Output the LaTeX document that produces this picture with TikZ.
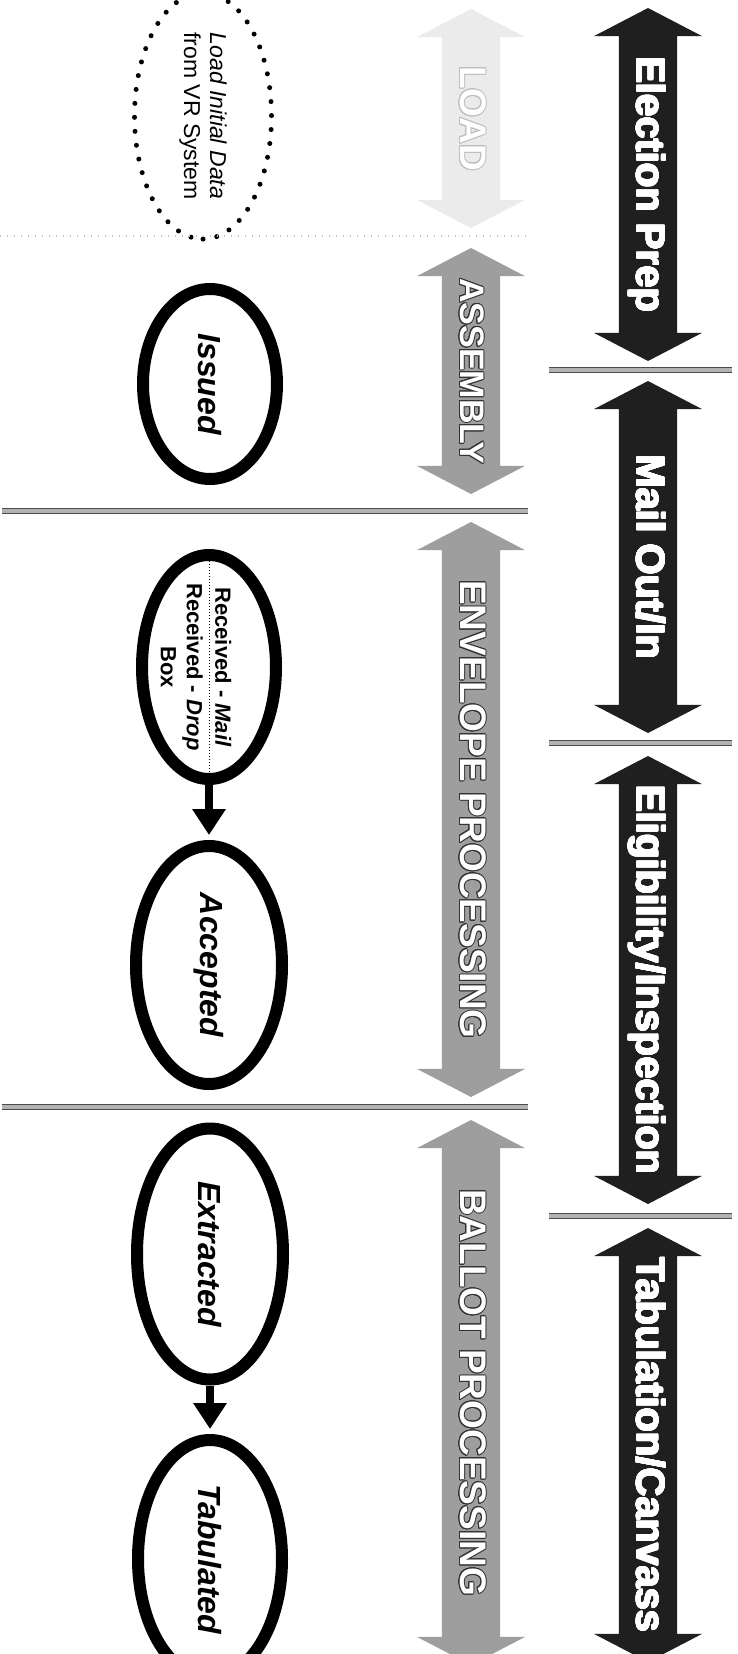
\documentclass[tikz,border=0pt]{standalone}
\usepackage{fontspec}
\setmainfont{Liberation Sans}
\usepackage{contour}
\contourlength{1pt}
\usetikzlibrary{shapes, arrows.meta, positioning}

\newcommand{\outlinetext}[1]{\contour{black!80}{#1}}
\newcommand{\heavytext}[1]{\contourlength{0.6pt}\contour{white}{#1}}

\begin{document}
\begin{tikzpicture}[x=1pt, y=-1pt,
    state/.style={ellipse, draw, line width=12pt, rotate=-90, inner sep=0pt, font=\bfseries\itshape\fontsize{32}{34}\selectfont},
    phase/.style={double arrow, rotate=-90, fill=black!88, text=white, font=\bfseries\fontsize{40}{40}\selectfont,
        double arrow head extend=25pt, double arrow tip angle=125, inner xsep=0pt, inner ysep=10pt, text height=30pt, text depth=8pt},
    stage/.style={phase, fill=black!38, font=\bfseries\fontsize{37}{37}\selectfont},
    flow/.style={line width=8pt, -{Triangle[width=32pt,length=26pt]}, shorten >=5pt},
    divider/.style={draw=black!70, line width=1.2pt, double=black!30, double distance=3.5pt}]

                \useasboundingbox[fill=white] (0,0) rectangle (737,1654);

                % Nodes
                \node (load) [ellipse, rotate=-90, draw, line width=5pt, dash pattern=on 0pt off 14pt, line cap=round, minimum width=214pt, minimum height=137pt, align=center, font=\fontsize{23}{26}\selectfont] at (203,116) {\textit{Load Initial Data}\\from VR System};
                \node (issued) [state, minimum width=190pt, minimum height=134pt] at (210,384) {Issued};
                \node (recv) [state, minimum width=224pt, minimum height=134pt] at (209,667) {};
                \node (recvmail) [rotate=-90, anchor=south, inner sep=6pt, font=\bfseries\fontsize{22}{26}\selectfont] at (recv.center) {Received - \textit{Mail}};
                \node (recvdrop) [rotate=-90, anchor=north, inner sep=6pt, align=center, font=\bfseries\fontsize{22}{26}\selectfont] at (recv.center) {Received - \textit{Drop}\\Box};
                \node (acc) [state, minimum width=238pt, minimum height=146pt] at (209,965) {Accepted};
                \node (ext) [state, minimum width=251pt, minimum height=146pt] at (210,1254) {Extracted};
                \node (tab) [state, minimum width=238pt, minimum height=144pt] at (210,1559) {Tabulated};

                \node (loadarr) [stage, fill=black!8, minimum height=219pt] at (471,118.5) {\contour{black!25}{LOAD}};
                \node (assembly) [stage, font=\bfseries\fontsize{34}{34}\selectfont, minimum height=246pt] at (471,371) {\outlinetext{ASSEMBLY}};
                \node (envelope) [stage, minimum height=575pt] at (471,809.5) {\outlinetext{ENVELOPE PROCESSING}};
                \node (ballot) [stage, minimum height=545pt] at (471,1392.5) {\outlinetext{BALLOT PROCESSING}};

                \node (prep) [phase, minimum height=353pt] at (648,184.5) {\heavytext{Election Prep}};
                \node (mailio) [phase, minimum height=352pt] at (648,557) {\heavytext{Mail Out/In}};
                \node (elig) [phase, minimum height=448pt] at (648,980) {\heavytext{Eligibility/Inspection}};
                \node (tabcan) [phase, minimum height=434pt] at (648,1445) {\heavytext{Tabulation/Canvass}};

                % Separators
                \draw[black!25, line width=2pt, dash pattern=on 1pt off 6pt] (0,236) -- (530,236);
                \draw[divider] (2,511) -- (528,511);
                \draw[divider] (2,1107) -- (528,1107);
                \draw[divider] (549,370) -- (732,370);
                \draw[divider] (549,743) -- (732,743);
                \draw[divider] (549,1216) -- (732,1216);

                % Edges
                \draw[dotted, line width=1pt] (recv.west) -- (recv.east);
                \draw[flow] (recv) -- (acc);
                \draw[flow] (ext) -- (tab);
            \end{tikzpicture}
\end{document}
